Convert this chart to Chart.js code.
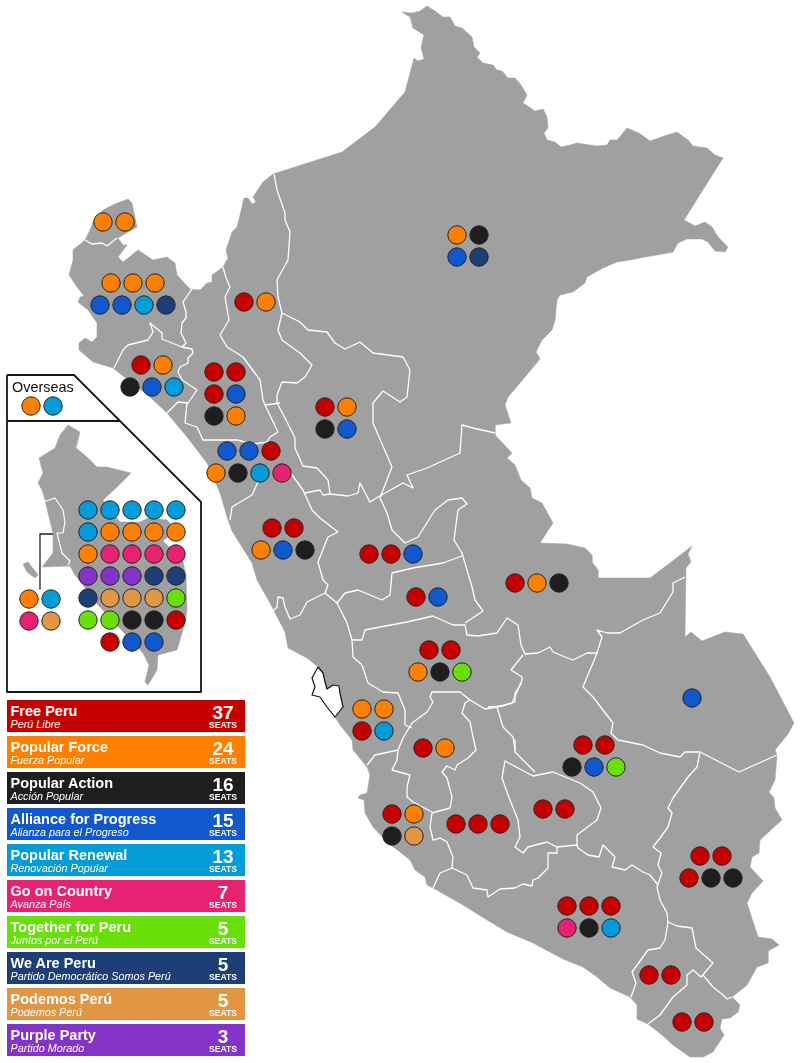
<!DOCTYPE html>
<html>
<head>
<meta charset="utf-8">
<title>Peru 2021 congress seats</title>
<script src="https://cdn.jsdelivr.net/npm/chart.js@4"></script>
<style>
    html, body { margin: 0; padding: 0; background: #fff; }
    #wrap { position: relative; width: 800px; height: 1063px; overflow: hidden; font-family: "Liberation Sans", Arial, sans-serif; }
    #map { position: absolute; left: 0; top: 0; }
    #overseas { position: absolute; left: 12px; top: 379px; font-size: 14.4px; color: #111; line-height: 17px; }
    #legend { position: absolute; left: 7px; top: 700px; width: 238px; }
    .party { position: relative; height: 32px; margin-bottom: 4px; color: #fff; }
    .party .name { position: absolute; left: 3.5px; top: 2.5px; font-size: 14.5px; font-weight: bold; line-height: 17px; white-space: nowrap; }
    .party .local { position: absolute; left: 3.5px; top: 17.5px; font-size: 10.8px; font-style: italic; line-height: 13px; white-space: nowrap; }
    .party .count { position: absolute; right: 1px; width: 42px; text-align: center; top: 1.5px; font-size: 19px; font-weight: bold; line-height: 21px; }
    .party .seats { position: absolute; right: 1px; width: 42px; text-align: center; top: 20px; font-size: 8.6px; font-weight: bold; line-height: 11px; }
</style>
</head>
<body>
<div id="wrap">
    <canvas id="map" width="800" height="1063"></canvas>
    <div id="overseas">Overseas</div>
    <div id="legend"></div>
</div>
<script>
// Parties, in legend order
const partyCodes = ['FP', 'FO', 'AP', 'APP', 'RP', 'AVP', 'JP', 'SP', 'POD', 'PM'];
const partyNames = ['Free Peru', 'Popular Force', 'Popular Action', 'Alliance for Progress', 'Popular Renewal', 'Go on Country', 'Together for Peru', 'We Are Peru', 'Podemos Perú', 'Purple Party'];
const partyLocal = ['Perú Libre', 'Fuerza Popular', 'Acción Popular', 'Alianza para el Progreso', 'Renovación Popular', 'Avanza País', 'Juntos por el Perú', 'Partido Democrático Somos Perú', 'Podemos Perú', 'Partido Morado'];
const partySeats = [37, 24, 16, 15, 13, 7, 5, 5, 5, 3];
const partyColors = ['#c60000', '#ff8000', '#1e1e1e', '#1158cf', '#049cd8', '#e82273', '#6ae00b', '#1e3f75', '#e09642', '#8433c8'];

// Constituencies: map position of the seat block and its seats row by row
const districtNames = ['Tumbes', 'Piura', 'Amazonas', 'Loreto', 'Lambayeque', 'Cajamarca', 'San Martin', 'La Libertad', 'Ancash', 'Huanuco', 'Pasco', 'Ucayali', 'Junin', 'Madre de Dios', 'Lima Provinces', 'Huancavelica', 'Ica', 'Ayacucho', 'Apurimac', 'Cusco', 'Puno', 'Arequipa', 'Moquegua', 'Tacna', 'Overseas', 'Callao', 'Lima'];
const districtX = [114, 133, 255, 468, 152, 225, 336, 249, 283, 391, 427, 537, 440, 692, 373, 434, 403, 478, 554, 594, 711, 589, 660, 693, 42, 40, 132];
const districtY = [222, 283, 302, 235, 365, 372, 407, 451, 528, 554, 597, 583, 650, 698, 709, 748, 814, 824, 809, 745, 856, 906, 975, 1022, 406, 599, 510];
const districtSeats = [
    [['FO', 'FO']],
    [['FO', 'FO', 'FO'], ['APP', 'APP', 'RP', 'SP']],
    [['FP', 'FO']],
    [['FO', 'AP'], ['APP', 'SP']],
    [['FP', 'FO'], ['AP', 'APP', 'RP']],
    [['FP', 'FP'], ['FP', 'APP'], ['AP', 'FO']],
    [['FP', 'FO'], ['AP', 'APP']],
    [['APP', 'APP', 'FP'], ['FO', 'AP', 'RP', 'AVP']],
    [['FP', 'FP'], ['FO', 'APP', 'AP']],
    [['FP', 'FP', 'APP']],
    [['FP', 'APP']],
    [['FP', 'FO', 'AP']],
    [['FP', 'FP'], ['FO', 'AP', 'JP']],
    [['APP']],
    [['FO', 'FO'], ['FP', 'RP']],
    [['FP', 'FO']],
    [['FP', 'FO'], ['AP', 'POD']],
    [['FP', 'FP', 'FP']],
    [['FP', 'FP']],
    [['FP', 'FP'], ['AP', 'APP', 'JP']],
    [['FP', 'FP'], ['FP', 'AP', 'AP']],
    [['FP', 'FP', 'FP'], ['AVP', 'AP', 'RP']],
    [['FP', 'FP']],
    [['FP', 'FP']],
    [['FO', 'RP']],
    [['FO', 'RP'], ['AVP', 'POD']],
    [['RP', 'RP', 'RP', 'RP', 'RP'], ['RP', 'FO', 'FO', 'FO', 'FO'], ['FO', 'AVP', 'AVP', 'AVP', 'AVP'], ['PM', 'PM', 'PM', 'SP', 'SP'], ['SP', 'POD', 'POD', 'POD', 'JP'], ['JP', 'JP', 'AP', 'AP', 'FP'], ['FP', 'APP', 'APP']]
];
const seatStep = 22;

// Map geometry
const peruOutline = [[402,12],[412,13],[420,11],[427,6],[435,11],[443,17],[450,17],[455,26],[462,28],[472,37],[474,47],[480,53],[477,57],[483,63],[493,65],[497,70],[502,71],[508,78],[515,78],[521,85],[527,95],[523,103],[535,111],[543,109],[547,117],[548,128],[544,133],[547,140],[555,142],[561,147],[570,145],[577,143],[590,145],[597,146],[607,145],[610,140],[617,140],[627,128],[639,133],[650,141],[667,135],[677,132],[688,140],[693,146],[707,148],[715,155],[723,158],[684,220],[695,226],[705,222],[712,227],[718,237],[728,247],[725,252],[715,251],[708,242],[702,239],[687,239],[678,243],[673,252],[663,254],[645,257],[630,260],[617,262],[603,268],[587,277],[585,283],[573,292],[560,295],[557,300],[555,320],[552,330],[542,340],[536,352],[540,359],[520,383],[508,397],[505,405],[511,423],[495,425],[495,435],[512,453],[507,458],[515,465],[521,480],[530,488],[532,498],[542,503],[553,523],[540,543],[567,544],[585,548],[592,555],[592,562],[598,570],[598,578],[650,578],[670,563],[692,546],[688,554],[691,562],[686,568],[685,637],[691,632],[702,641],[725,632],[743,634],[770,677],[794,723],[788,734],[775,750],[777,755],[775,780],[769,792],[774,798],[775,808],[782,820],[773,828],[760,840],[759,853],[752,857],[750,867],[763,881],[752,893],[747,903],[758,937],[772,939],[779,945],[768,951],[768,963],[757,967],[747,985],[732,997],[740,1005],[738,1012],[730,1018],[722,1019],[720,1028],[724,1035],[713,1052],[703,1057],[690,1057],[673,1045],[662,1035],[648,1024],[637,1019],[637,1005],[630,997],[610,988],[597,977],[583,967],[563,959],[533,943],[507,932],[487,920],[463,905],[433,888],[427,885],[425,877],[415,870],[410,860],[400,852],[387,842],[373,827],[365,813],[364,800],[358,798],[360,795],[367,793],[370,775],[367,767],[353,750],[352,740],[340,725],[335,717],[320,690],[318,667],[307,658],[288,648],[285,632],[270,603],[257,580],[252,563],[242,547],[232,531],[228,520],[220,493],[207,463],[187,437],[167,413],[150,397],[132,383],[113,368],[93,362],[79,350],[79,343],[85,338],[92,342],[97,337],[97,323],[88,310],[78,302],[80,297],[84,296],[77,287],[69,275],[73,260],[73,250],[85,240],[90,230],[93,222],[103,210],[115,204],[128,199],[132,203],[134,213],[137,227],[128,232],[118,238],[123,245],[127,245],[118,257],[123,262],[138,250],[153,260],[167,257],[175,263],[177,275],[190,289],[200,290],[207,283],[212,282],[212,275],[223,267],[228,258],[226,250],[232,232],[237,227],[240,215],[244,198],[248,198],[252,204],[256,202],[253,197],[263,182],[273,174],[342,152],[375,127],[405,92],[414,58],[418,61],[424,59],[421,47],[424,35],[413,28],[410,17],[402,12]];

const regionBorders = [
    [[85,240],[92,244],[102,243],[107,246],[117,238]],
    [[274,174],[277,190],[285,213],[285,220],[290,232],[288,260],[277,280],[278,297],[282,313],[300,322],[308,330],[327,332],[335,343],[345,349],[360,342],[373,353],[403,357],[410,370],[407,397],[400,402],[383,391],[373,403],[373,423],[392,467],[383,490],[380,498]],
    [[282,313],[278,330],[282,340],[300,353],[312,365],[305,377],[297,383],[282,382],[277,395],[277,403],[285,418],[295,438],[295,448],[303,466],[317,468],[328,480],[330,494],[348,496],[358,493],[360,483],[370,502],[378,497],[403,483],[413,488],[407,475],[427,468],[460,453],[462,425],[473,428],[495,433]],
    [[223,267],[226,278],[230,287],[225,297],[229,320],[220,335],[227,347],[243,357],[260,380],[263,400],[265,405],[278,432],[270,437],[267,442],[253,444],[237,440],[220,440],[207,440],[203,440],[197,427],[185,423],[187,403]],
    [[265,405],[280,403]],
    [[192,289],[183,302],[186,312],[186,318],[182,323],[181,333],[186,343],[182,347]],
    [[114,368],[123,350],[128,345],[148,340],[153,332],[150,323],[162,333],[162,339],[172,343],[182,347],[192,349],[193,353],[188,358],[188,363],[180,367],[178,372],[182,380],[197,390],[188,403],[178,402],[167,413]],
    [[258,482],[252,495],[232,507],[230,520]],
    [[290,472],[303,490],[312,510],[320,518],[338,532],[328,537],[318,562],[323,580],[328,585],[325,593],[307,602],[300,615],[290,619],[285,607],[283,598],[278,597],[277,607],[272,612]],
    [[305,493],[320,490],[323,495],[330,494]],
    [[380,498],[387,513],[392,530],[405,543],[418,537],[435,510],[448,500],[462,498],[467,504],[458,510],[454,540],[462,553],[472,587],[475,600],[483,611],[465,623]],
    [[462,556],[443,563],[413,568],[392,573],[390,595],[382,600],[358,590],[345,593],[337,603],[325,593]],
    [[337,603],[347,623],[352,640],[353,657],[362,665],[368,683],[383,692],[398,693],[405,710],[405,725],[412,728]],
    [[352,640],[362,640],[365,630],[380,627],[407,622],[433,616],[453,625],[465,625],[467,635],[478,636],[497,633],[507,618],[518,625],[521,645],[525,654],[538,653],[550,647],[553,652],[565,657],[573,660],[587,653],[597,653],[602,637],[597,630],[607,633],[620,633],[643,620],[660,613],[673,592],[673,583],[685,577]],
    [[597,653],[593,663],[587,677],[583,687],[593,697],[603,710],[613,723],[611,733],[618,740],[643,745],[660,753],[680,757],[685,752],[700,752],[739,772],[777,755]],
    [[700,752],[697,767],[688,777],[673,798],[668,808],[672,813],[668,827],[660,838],[653,847],[661,853],[658,865],[662,873],[657,887],[660,900],[667,913],[668,922],[677,926],[692,928],[696,948],[713,963],[701,977],[693,970],[687,975],[687,985],[673,997],[660,1015],[648,1024]],
    [[703,975],[713,987],[723,995],[727,999],[732,997]],
    [[668,922],[665,940],[660,948],[648,950],[632,972],[636,983],[631,997]],
    [[658,885],[650,875],[643,872],[632,865],[625,870],[612,867],[615,857],[603,845],[599,857],[588,855],[578,848],[577,845],[557,847],[547,842],[528,847],[523,853],[515,847],[520,837],[518,820],[508,795],[502,778],[505,761],[518,768],[533,776],[553,772],[580,783],[593,792],[601,808],[597,820],[577,835],[577,845]],
    [[515,740],[515,752],[535,772]],
    [[557,847],[557,853],[548,853],[548,868],[538,878],[533,880],[532,886],[523,884],[515,888],[500,889],[488,897],[487,890],[473,888],[467,875],[452,868],[440,873],[433,888]],
    [[452,868],[453,857],[447,842],[440,838],[433,840],[430,827],[432,813],[450,808],[452,797],[447,778],[442,772],[447,766],[455,770],[457,765],[468,758],[476,750],[473,737],[470,722],[462,713],[465,703],[470,700],[460,692],[432,692],[430,697],[433,702],[427,712],[412,723],[403,738],[398,750],[375,755],[367,765]],
    [[398,750],[397,760],[392,770],[410,775],[407,787],[407,797],[413,802],[432,812]],
    [[470,700],[485,709],[497,707],[512,703],[522,680],[522,677],[511,670],[523,655]],
    [[497,707],[503,727],[513,737],[515,750]],
    [[522,683],[515,693],[515,702],[503,706],[488,707]]
];

const limaOutline = [[318,667],[312,678],[315,687],[312,695],[320,697],[327,707],[335,717],[343,707],[340,693],[339,686],[333,685],[327,689],[325,682],[323,673],[318,667]];

const insetPanel = [[7,375],[74,375],[201,502],[201,692],[7,692],[7,375]];
const insetDivider = [[7,421],[120,421]];
const insetOutline = [[68,425],[80,432],[76,448],[87,457],[97,467],[107,467],[131,473],[117,487],[103,500],[108,508],[120,522],[140,522],[148,518],[167,520],[176,530],[163,541],[170,548],[180,548],[186,575],[187,610],[185,623],[177,650],[158,655],[157,670],[148,685],[145,682],[149,665],[143,653],[98,605],[75,575],[70,566],[42,567],[53,553],[53,533],[48,513],[45,500],[42,490],[38,483],[43,473],[39,458],[55,448],[60,435],[68,425]];
const insetIsland = [[23,564],[28,562],[38,575],[35,578],[27,572],[23,564]];
const insetBorder = [[43,502],[55,498],[63,510],[65,522],[63,533],[57,533],[60,545],[62,553],[70,561],[68,565]];
const insetLeader = [[53,534],[40,534],[40,589]];

function toPoints(line) {
    return line.map(function(p) { return { x: p[0], y: p[1] }; });
}

function shape(line, fillColor, lineColor, lineWidth) {
    return {
        type: 'scatter',
        showLine: true,
        data: toPoints(line),
        fill: fillColor ? 'shape' : false,
        backgroundColor: fillColor || 'transparent',
        borderColor: lineColor,
        borderWidth: lineWidth,
        borderJoinStyle: 'round',
        pointRadius: 0,
        pointHoverRadius: 0,
        tension: 0
    };
}

// Seats are laid out in centred rows around each district's position
function seatPoints(code) {
    const points = [];
    districtSeats.forEach(function(rows, d) {
        rows.forEach(function(row, r) {
            row.forEach(function(seat, i) {
                if (seat === code) {
                    points.push({
                        x: districtX[d] + (i - (row.length - 1) / 2) * seatStep,
                        y: districtY[d] + r * seatStep,
                        district: districtNames[d]
                    });
                }
            });
        });
    });
    return points;
}

document.addEventListener('DOMContentLoaded', function() {
    // Legend
    const legend = document.getElementById('legend');
    partyNames.forEach(function(name, i) {
        const row = document.createElement('div');
        row.className = 'party';
        row.style.background = partyColors[i];
        row.innerHTML = `<div class="name">${name}</div><div class="local">${partyLocal[i]}</div>` +
            `<div class="count">${partySeats[i]}</div><div class="seats">SEATS</div>`;
        legend.appendChild(row);
    });

    // Datasets in paint order, bottom first
    const layers = [shape(peruOutline, '#a0a0a0', '#a0a0a0', 0.5)];
    regionBorders.forEach(function(line) {
        layers.push(shape(line, null, '#ffffff', 1.3));
    });
    layers.push(shape(limaOutline, '#ffffff', '#111111', 1.2));
    layers.push(shape(insetPanel, '#ffffff', '#161616', 1.8));
    layers.push(shape(insetDivider, null, '#161616', 1.8));
    layers.push(shape(insetOutline, '#a0a0a0', '#a0a0a0', 0.5));
    layers.push(shape(insetIsland, '#a0a0a0', '#a0a0a0', 0.5));
    layers.push(shape(insetBorder, null, '#ffffff', 1.2));
    layers.push(shape(insetLeader, null, '#222222', 1.3));
    partyCodes.forEach(function(code, i) {
        layers.push({
            type: 'scatter',
            label: partyNames[i],
            data: seatPoints(code),
            backgroundColor: partyColors[i],
            borderColor: '#222222',
            borderWidth: 1,
            pointRadius: 9.2,
            pointHoverRadius: 9.2
        });
    });
    layers.forEach(function(layer, i) {
        layer.order = layers.length - i;
        layer.clip = false;
    });

    const ctx = document.getElementById('map').getContext('2d');
    new Chart(ctx, {
        type: 'scatter',
        data: { datasets: layers },
        options: {
            responsive: false,
            animation: false,
            devicePixelRatio: 1,
            layout: { padding: 0, autoPadding: false },
            plugins: {
                legend: { display: false },
                tooltip: { enabled: false }
            },
            scales: {
                x: { type: 'linear', min: 0, max: 800, display: false },
                y: { type: 'linear', min: 0, max: 1063, reverse: true, display: false }
            }
        }
    });
});
</script>
</body>
</html>
